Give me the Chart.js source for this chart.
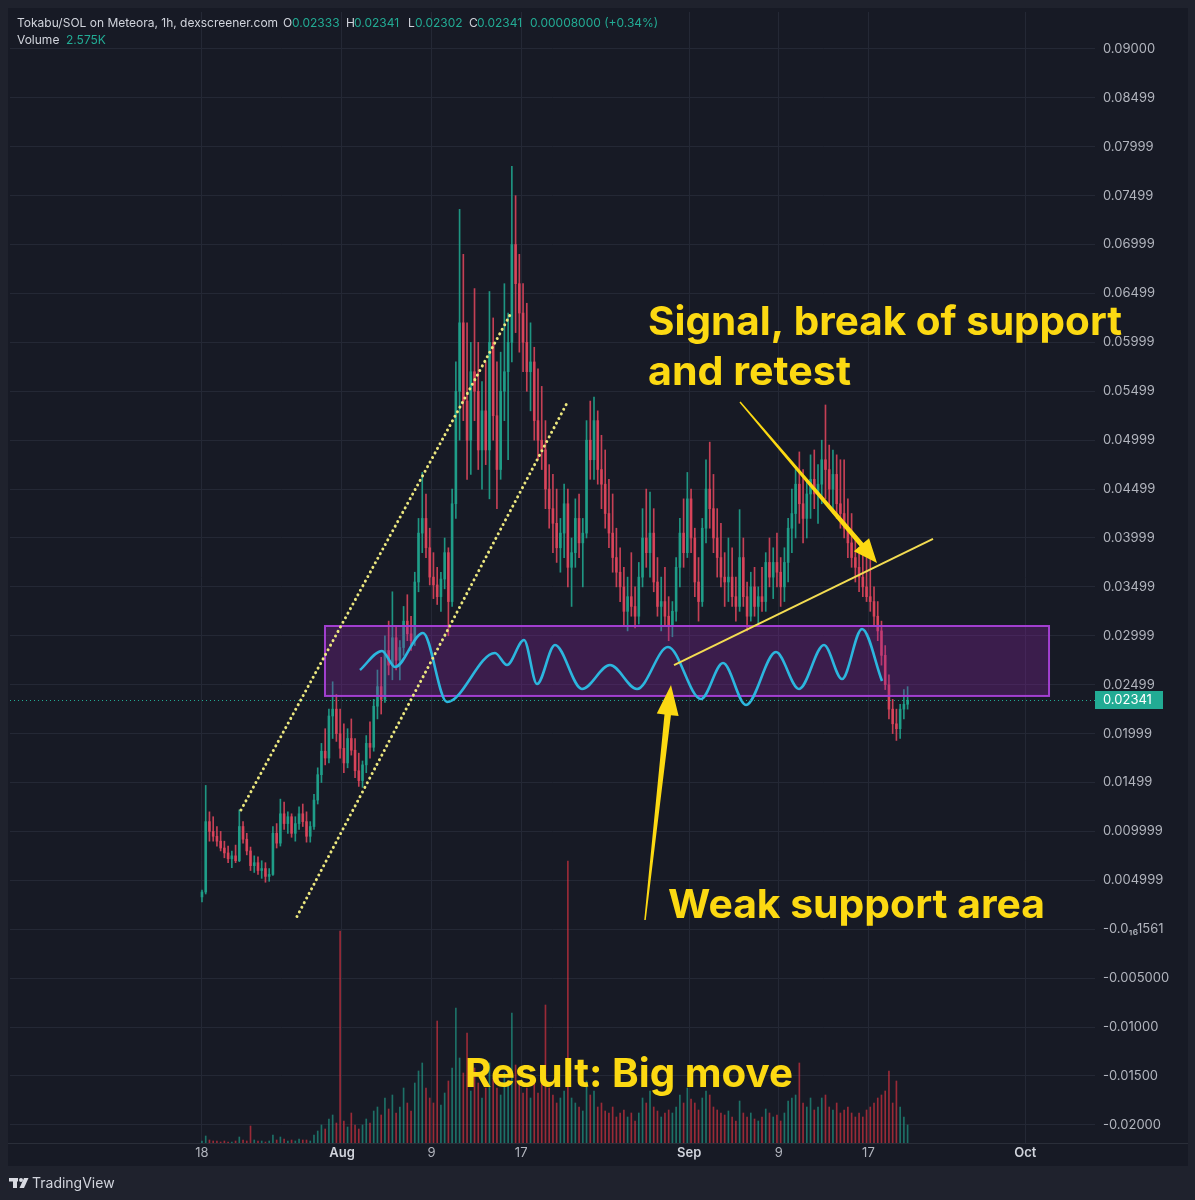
<!DOCTYPE html>
<html><head><meta charset="utf-8">
<script src="https://cdn.jsdelivr.net/npm/chart.js@4.4.1/dist/chart.umd.min.js"></script>
<style>
html,body{margin:0;padding:0;background:#1e212c;}
canvas{display:block;}
</style></head><body>
<canvas id="c" width="1195" height="1200"></canvas>
<script>
// ---- time layout of the 8h candles (days relative to Aug 1) ----
const candleStartDay = -12.5;
const candleStepDays = 1 / 3;
const firstOpen = 0.0033;

const highs = [0.0040,0.0147,0.0120,0.0115,0.0105,0.0100,0.0090,0.0085,0.0080,0.0086,
 0.0122,0.0110,0.0098,0.0084,0.0075,0.0074,0.0070,0.0068,0.0062,0.0105,
 0.0108,0.0133,0.0130,0.0120,0.0118,0.0115,0.0125,0.0128,0.0120,0.0110,
 0.0138,0.0165,0.0190,0.0205,0.0225,0.0253,0.0240,0.0225,0.0210,0.0205,
 0.0215,0.0195,0.0180,0.0172,0.0198,0.0212,0.0235,0.0265,0.0278,0.0300,
 0.0315,0.0345,0.0310,0.0295,0.0330,0.0342,0.0320,0.0365,0.0420,0.0467,
 0.0445,0.0410,0.0385,0.0370,0.0365,0.0400,0.0390,0.0450,0.0580,0.0736,
 0.0690,0.0620,0.0600,0.0655,0.0600,0.0560,0.0580,0.0652,0.0625,0.0580,
 0.0590,0.0660,0.0630,0.0780,0.0750,0.0690,0.0660,0.0640,0.0620,0.0595,
 0.0573,0.0555,0.0520,0.0475,0.0465,0.0450,0.0420,0.0455,0.0450,0.0400,
 0.0440,0.0445,0.0420,0.0520,0.0540,0.0544,0.0530,0.0505,0.0490,0.0460,
 0.0445,0.0410,0.0390,0.0370,0.0360,0.0385,0.0350,0.0375,0.0430,0.0450,
 0.0447,0.0430,0.0380,0.0360,0.0370,0.0340,0.0335,0.0380,0.0420,0.0440,
 0.0467,0.0450,0.0410,0.0380,0.0420,0.0480,0.0498,0.0465,0.0430,0.0415,
 0.0385,0.0400,0.0390,0.0360,0.0429,0.0400,0.0355,0.0365,0.0370,0.0350,
 0.0370,0.0385,0.0400,0.0390,0.0405,0.0380,0.0390,0.0420,0.0450,0.0470,
 0.0488,0.0470,0.0460,0.0485,0.0490,0.0475,0.0500,0.0536,0.0495,0.0490,
 0.0485,0.0480,0.0480,0.0440,0.0425,0.0400,0.0390,0.0385,0.0380,0.0380,
 0.0350,0.0335,0.0315,0.0290,0.0260,0.0235,0.0225,0.0230,0.0245,0.0248];

const lows = [0.0028,0.0036,0.0090,0.0090,0.0085,0.0080,0.0073,0.0068,0.0063,0.0068,
 0.0069,0.0088,0.0076,0.0060,0.0058,0.0056,0.0052,0.0048,0.0049,0.0055,
 0.0083,0.0085,0.0102,0.0098,0.0094,0.0090,0.0102,0.0105,0.0089,0.0089,
 0.0102,0.0128,0.0150,0.0168,0.0170,0.0195,0.0192,0.0175,0.0160,0.0165,
 0.0178,0.0155,0.0146,0.0145,0.0160,0.0175,0.0182,0.0215,0.0220,0.0232,
 0.0260,0.0255,0.0265,0.0255,0.0280,0.0295,0.0285,0.0290,0.0345,0.0385,
 0.0380,0.0352,0.0338,0.0332,0.0325,0.0348,0.0300,0.0330,0.0420,0.0500,
 0.0520,0.0460,0.0465,0.0520,0.0470,0.0450,0.0475,0.0440,0.0500,0.0430,
 0.0460,0.0520,0.0480,0.0580,0.0610,0.0590,0.0570,0.0550,0.0530,0.0500,
 0.0480,0.0470,0.0430,0.0410,0.0385,0.0375,0.0365,0.0380,0.0350,0.0330,
 0.0370,0.0380,0.0350,0.0400,0.0460,0.0460,0.0455,0.0430,0.0410,0.0390,
 0.0365,0.0350,0.0335,0.0310,0.0305,0.0320,0.0308,0.0312,0.0350,0.0370,
 0.0360,0.0345,0.0320,0.0305,0.0310,0.0295,0.0299,0.0315,0.0350,0.0370,
 0.0380,0.0385,0.0340,0.0315,0.0330,0.0395,0.0410,0.0385,0.0360,0.0350,
 0.0330,0.0335,0.0330,0.0315,0.0325,0.0330,0.0305,0.0315,0.0320,0.0312,
 0.0325,0.0325,0.0350,0.0338,0.0350,0.0330,0.0335,0.0355,0.0385,0.0400,
 0.0415,0.0395,0.0400,0.0420,0.0430,0.0415,0.0435,0.0440,0.0430,0.0425,
 0.0420,0.0410,0.0400,0.0380,0.0370,0.0355,0.0345,0.0340,0.0335,0.0325,
 0.0310,0.0295,0.0270,0.0245,0.0215,0.0200,0.0193,0.0195,0.0215,0.0225];

const closes = [0.0038,0.0110,0.0100,0.0095,0.0090,0.0083,0.0078,0.0072,0.0075,0.0070,
 0.0105,0.0092,0.0080,0.0065,0.0068,0.0060,0.0062,0.0054,0.0056,0.0098,
 0.0088,0.0118,0.0108,0.0115,0.0098,0.0108,0.0118,0.0110,0.0095,0.0105,
 0.0132,0.0158,0.0182,0.0175,0.0218,0.0225,0.0200,0.0185,0.0170,0.0195,
 0.0183,0.0162,0.0152,0.0168,0.0190,0.0186,0.0228,0.0248,0.0235,0.0285,
 0.0270,0.0298,0.0275,0.0288,0.0315,0.0302,0.0295,0.0355,0.0405,0.0420,
 0.0390,0.0360,0.0352,0.0340,0.0358,0.0385,0.0335,0.0435,0.0550,0.0620,
 0.0540,0.0500,0.0570,0.0550,0.0490,0.0530,0.0490,0.0600,0.0525,0.0470,
 0.0550,0.0570,0.0600,0.0700,0.0660,0.0630,0.0600,0.0570,0.0580,0.0520,
 0.0500,0.0490,0.0450,0.0430,0.0415,0.0390,0.0405,0.0435,0.0370,0.0385,
 0.0420,0.0395,0.0405,0.0500,0.0480,0.0520,0.0470,0.0455,0.0425,0.0405,
 0.0380,0.0365,0.0350,0.0325,0.0340,0.0330,0.0320,0.0360,0.0400,0.0385,
 0.0405,0.0355,0.0330,0.0335,0.0320,0.0310,0.0325,0.0370,0.0405,0.0385,
 0.0440,0.0400,0.0355,0.0335,0.0410,0.0450,0.0430,0.0400,0.0380,0.0360,
 0.0355,0.0360,0.0340,0.0330,0.0380,0.0340,0.0320,0.0350,0.0330,0.0340,
 0.0335,0.0375,0.0360,0.0375,0.0365,0.0350,0.0375,0.0410,0.0425,0.0455,
 0.0435,0.0420,0.0445,0.0460,0.0445,0.0455,0.0480,0.0470,0.0450,0.0465,
 0.0435,0.0425,0.0410,0.0395,0.0380,0.0370,0.0360,0.0350,0.0340,0.0335,
 0.0320,0.0305,0.0280,0.0250,0.0225,0.0210,0.0205,0.0225,0.0230,0.02341];

const volumesK = [2,7,3,2,2,1,2,1,1,2,
 6,3,2,17,3,2,2,1,2,8,
 3,6,4,2,3,2,4,3,3,2,
 8,12,18,14,24,28,20,212,22,16,
 30,18,14,18,24,20,32,36,28,45,
 34,48,30,36,55,40,32,60,72,80,
 55,45,40,122,38,50,62,75,135,85,
 70,110,52,75,60,45,55,80,65,55,
 48,70,60,130,78,62,50,55,45,60,
 50,68,138,55,48,40,45,52,282,45,
 40,36,32,62,48,52,36,40,32,30,
 36,26,30,33,26,30,22,30,45,40,
 52,36,32,26,30,33,30,36,48,40,
 55,44,40,33,45,52,48,36,33,30,
 28,32,26,22,42,30,26,30,24,22,
 26,34,30,26,28,22,30,42,45,48,
 80,40,36,45,33,36,45,48,36,33,
 40,30,33,36,30,26,30,26,33,36,
 40,45,48,52,72,40,62,36,26,18];

// axis ticks
const xTickDays = [-12.5, 0, 8, 16, 31, 39, 47, 61];
const xTickLabels = ['18', 'Aug', '9', '17', 'Sep', '9', '17', 'Oct'];
const monthLabels = ['Aug', 'Sep', 'Oct'];
const yTickValues = [0.09,0.085,0.08,0.075,0.07,0.065,0.06,0.055,0.05,0.045,0.04,0.035,0.03,0.025,0.02,0.015,0.01,0.005,0,-0.005,-0.01,-0.015,-0.02];
const yTickLabels = ['0.09000','0.08499','0.07999','0.07499','0.06999','0.06499','0.05999','0.05499','0.04999','0.04499','0.03999','0.03499','0.02999','0.02499','0.01999','0.01499','0.009999','0.004999','-0.0\u2081\u20861561','-0.005000','-0.01000','-0.01500','-0.02000'];
const lastPrice = 0.02341;

// hand-drawn cyan wave inside the support box
const waveDays = [1.607,3.571,4.732,7.232,9.375,13.661,14.732,16.25,17.411,19.018,21.429,23.929,26.339,29.107,32.054,34.018,36.071,38.75,40.804,43.036,44.643,46.429,48.214];
const wavePrices = [0.0265,0.02845,0.02681,0.03029,0.02323,0.02824,0.02701,0.02957,0.02507,0.02906,0.02456,0.02701,0.02456,0.02885,0.02354,0.02722,0.02292,0.02834,0.02456,0.02906,0.02558,0.0307,0.02538];

// drawings (in day / price coordinates)
const channelLines = [[-9.018, 0.01219, 15.0, 0.0628], [-4.018, 0.0013, 20.089, 0.0538]];
const supportBox = [-1.518, 0.0310, 63.125, 0.02385];
const retestLine = [29.643, 0.02701, 52.768, 0.0399];
const arrowsDef = [
  {from: [35.536, 0.05391], to: [47.768, 0.03744], w1: 1.5, w2: 5, head: 24, half: 10},
  {from: [27.054, 0.00094], to: [29.375, 0.02497], w1: 1.5, w2: 6.5, head: 30, half: 11}
];
const notes = [
  {text: 'Signal, break of support', day: 27.32, price: 0.06076, w: 474},
  {text: 'and retest', day: 27.32, price: 0.05564, w: 203},
  {text: 'Weak support area', day: 29.11, price: 0.00115, w: 377},
  {text: 'Result: Big move', day: 10.98, price: -0.01613, w: 328}
];

const X_MIN = -29.64, X_MAX = 67.23;
const Y_MIN = -0.02186, Y_MAX = 0.09378;
const VOL_MAX = 1131;

const times = closes.map((_, i) => candleStartDay + i * candleStepDays);
const opens = closes.map((c, i) => i === 0 ? firstOpen : closes[i - 1]);
const isUp = closes.map((c, i) => c >= opens[i]);
const UP = 'rgba(31,160,138,0.92)', DOWN = 'rgba(222,70,92,0.88)';
const UPV = 'rgba(34,171,148,0.6)', DOWNV = 'rgba(242,54,69,0.6)';
const TEAL = '#22ab94';
const YELLOW = '#fcd912';

const bgPlugin = {
  id: 'bg',
  beforeDraw(chart) {
    const c = chart.ctx;
    c.save();
    c.fillStyle = '#1f222d';
    c.fillRect(0, 0, chart.width, chart.height);
    c.fillStyle = '#171a25';
    c.fillRect(8, 8, 1180, 1158);
    c.restore();
  }
};

const boxPlugin = {
  id: 'box',
  beforeDatasetDraw(chart, args) {
    if (args.index !== 0) return;
    const c = chart.ctx, xs = chart.scales.x, ys = chart.scales.y;
    const x1 = xs.getPixelForValue(supportBox[0]), y1 = ys.getPixelForValue(supportBox[1]);
    const x2 = xs.getPixelForValue(supportBox[2]), y2 = ys.getPixelForValue(supportBox[3]);
    c.save();
    c.fillStyle = 'rgba(142,36,170,0.30)';
    c.fillRect(x1, y1, x2 - x1, y2 - y1);
    c.strokeStyle = '#a23fd0';
    c.lineWidth = 2;
    c.strokeRect(x1, y1, x2 - x1, y2 - y1);
    c.restore();
  }
};

function drawArrow(c, x1, y1, x2, y2, w1, w2, headLen, headHalf) {
  const dx = x2 - x1, dy = y2 - y1, L = Math.hypot(dx, dy);
  const ux = dx / L, uy = dy / L, nx = -uy, ny = ux;
  const bx = x2 - ux * headLen, by = y2 - uy * headLen;
  c.beginPath();
  c.moveTo(x1 + nx * w1 / 2, y1 + ny * w1 / 2);
  c.lineTo(bx + nx * w2 / 2, by + ny * w2 / 2);
  c.lineTo(bx + nx * headHalf, by + ny * headHalf);
  c.lineTo(x2, y2);
  c.lineTo(bx - nx * headHalf, by - ny * headHalf);
  c.lineTo(bx - nx * w2 / 2, by - ny * w2 / 2);
  c.lineTo(x1 - nx * w1 / 2, y1 - ny * w1 / 2);
  c.closePath();
  c.fill();
}

const overlayPlugin = {
  id: 'overlay',
  afterDatasetsDraw(chart) {
    const c = chart.ctx, xs = chart.scales.x, ys = chart.scales.y, ca = chart.chartArea;
    const X = d => xs.getPixelForValue(d), Y = p => ys.getPixelForValue(p);
    c.save();
    // last price dotted line
    c.strokeStyle = TEAL; c.lineWidth = 1; c.setLineDash([1, 3]);
    c.beginPath(); c.moveTo(ca.left, Math.round(Y(lastPrice)) + 0.5); c.lineTo(ca.right, Math.round(Y(lastPrice)) + 0.5); c.stroke();
    // dotted channel
    c.strokeStyle = '#ece77e'; c.lineWidth = 3; c.lineCap = 'round'; c.setLineDash([0.01, 5.2]);
    channelLines.forEach(l => { c.beginPath(); c.moveTo(X(l[0]), Y(l[1])); c.lineTo(X(l[2]), Y(l[3])); c.stroke(); });
    // retest line
    c.setLineDash([]); c.lineCap = 'butt';
    c.strokeStyle = '#f3dc52'; c.lineWidth = 2;
    c.beginPath(); c.moveTo(X(retestLine[0]), Y(retestLine[1])); c.lineTo(X(retestLine[2]), Y(retestLine[3])); c.stroke();
    // arrows
    c.fillStyle = YELLOW;
    arrowsDef.forEach(a => drawArrow(c, X(a.from[0]), Y(a.from[1]), X(a.to[0]), Y(a.to[1]), a.w1, a.w2, a.head, a.half));
    // notes
    c.textBaseline = 'alphabetic'; c.textAlign = 'left';
    notes.forEach(n => {
      c.font = '700 40px Inter';
      const m = c.measureText(n.text).width;
      c.save();
      c.translate(X(n.day), Y(n.price));
      c.scale(n.w / m, 1);
      c.fillStyle = YELLOW;
      c.fillText(n.text, 0, 0);
      c.restore();
    });
    c.restore();
  },
  afterDraw(chart) {
    const c = chart.ctx, ys = chart.scales.y, ca = chart.chartArea;
    c.save();
    // separator above time axis
    c.fillStyle = '#2a2e39';
    c.fillRect(8, ca.bottom, 1180, 1);
    // last price label
    const py = Math.round(ys.getPixelForValue(lastPrice));
    c.fillStyle = TEAL;
    c.fillRect(1095, py - 9, 68, 18);
    c.fillStyle = '#ffffff';
    c.font = '13px Inter'; c.textBaseline = 'middle'; c.textAlign = 'left';
    c.fillText(lastPrice.toFixed(5), 1103, py + 0.5);
    // header
    c.font = '12px Inter';
    const hy = 23;
    const parts = [
      [17, 'Tokabu/SOL on Meteora, 1h, dexscreener.com', '#d1d4dc'],
      [283, 'O', '#d1d4dc'], [292, '0.02333', TEAL],
      [346, 'H', '#d1d4dc'], [354, '0.02341', TEAL],
      [408, 'L', '#d1d4dc'], [415, '0.02302', TEAL],
      [469, 'C', '#d1d4dc'], [477, '0.02341', TEAL],
      [530, '0.00008000 (+0.34%)', TEAL]
    ];
    parts.forEach(p => { c.fillStyle = p[2]; c.fillText(p[1], p[0], hy); });
    c.fillStyle = '#d1d4dc'; c.fillText('Volume', 17, 40);
    c.fillStyle = TEAL; c.fillText('2.575K', 66, 40);
    // footer logo
    c.fillStyle = '#d9dbe2';
    c.fillRect(9, 1178, 9, 3.5);
    c.fillRect(13, 1178, 4, 10);
    c.beginPath(); c.arc(21, 1180, 2, 0, Math.PI * 2); c.fill();
    c.beginPath(); c.moveTo(24, 1178); c.lineTo(28.5, 1178); c.lineTo(24, 1188); c.lineTo(19.5, 1188); c.closePath(); c.fill();
    c.font = '14px Inter'; c.fillStyle = '#d1d4dc';
    c.fillText('TradingView', 32, 1184);
    c.restore();
  }
};

const colorBody = ctx => isUp[ctx.dataIndex] ? UP : DOWN;
const colorVol = ctx => isUp[ctx.dataIndex] ? UPV : DOWNV;

new Chart(document.getElementById('c'), {
  type: 'bar',
  data: {
    datasets: [
      {type: 'line', label: 'wave', data: waveDays.map((d, i) => ({x: d, y: wavePrices[i]})),
       borderColor: '#2cb6de', borderWidth: 2.6, pointRadius: 0, cubicInterpolationMode: 'monotone',
       order: 1, xAxisID: 'x', yAxisID: 'y'},
      {type: 'bar', label: 'body', data: times.map((t, i) => ({x: t, y: [Math.min(opens[i], closes[i]), Math.max(opens[i], closes[i])]})),
       backgroundColor: colorBody, barThickness: 2, minBarLength: 1, grouped: false, order: 2, xAxisID: 'x', yAxisID: 'y'},
      {type: 'bar', label: 'wick', data: times.map((t, i) => ({x: t, y: [lows[i], highs[i]]})),
       backgroundColor: colorBody, barThickness: 1, grouped: false, order: 3, xAxisID: 'x', yAxisID: 'y'},
      {type: 'bar', label: 'volume', data: times.map((t, i) => ({x: t, y: volumesK[i]})),
       backgroundColor: colorVol, barThickness: 1, grouped: false, order: 4, xAxisID: 'x', yAxisID: 'yv'}
    ]
  },
  options: {
    responsive: false, animation: false, devicePixelRatio: 1,
    layout: {autoPadding: false, padding: {left: 10, top: 12, right: 0, bottom: 33}},
    plugins: {legend: {display: false}, tooltip: {enabled: false}},
    scales: {
      x: {
        type: 'linear', min: X_MIN, max: X_MAX, offset: false,
        afterBuildTicks: s => { s.ticks = xTickDays.map(v => ({value: v})); },
        afterFit: s => { s.height = 24; s.paddingLeft = 0; s.paddingRight = 0; },
        ticks: {
          autoSkip: false, maxRotation: 0, padding: 2,
          callback: (v, i) => xTickLabels[i],
          color: ctx => monthLabels.includes(xTickLabels[ctx.index]) ? '#d1d4dc' : '#b2b5be',
          font: ctx => ({family: 'Inter', size: 13, weight: monthLabels.includes(xTickLabels[ctx.index]) ? '600' : '400'})
        },
        grid: {color: '#242835', drawTicks: false, offset: false},
        border: {display: false}
      },
      y: {
        type: 'linear', position: 'right', min: Y_MIN, max: Y_MAX,
        afterBuildTicks: s => { s.ticks = yTickValues.map(v => ({value: v})); },
        afterFit: s => { s.width = 100; s.paddingTop = 0; s.paddingBottom = 0; },
        ticks: {autoSkip: false, padding: 8, callback: (v, i) => yTickLabels[i], color: '#b2b5be', font: {family: 'Inter', size: 13}},
        grid: {color: '#242835', drawTicks: false},
        border: {display: false}
      },
      yv: {type: 'linear', display: false, min: 0, max: VOL_MAX}
    }
  },
  plugins: [bgPlugin, boxPlugin, overlayPlugin]
});
</script>
</body></html>
